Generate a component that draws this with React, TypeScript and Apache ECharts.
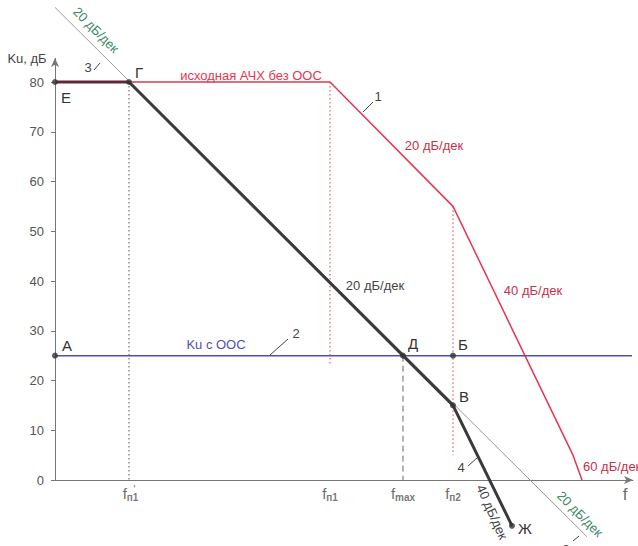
import React, { useEffect, useRef } from 'react';
import * as echarts from 'echarts';

// x is in decades of frequency (lg f), y is Ku in dB
const yTickValues = [0, 10, 20, 30, 40, 50, 60, 70, 80];
const xTickValues = [0.74, 2.75, 3.48, 3.98, 5.7];
const xTickMain = ['f', 'f', 'f', 'f', 'f'];
const xTickSub = ['п1', 'п1', 'max', 'п2', ''];
const xTickSup = ["'", '', '', '', ''];

// 1 — исходная АЧХ без ООС
const redLine = [[0, 80], [2.75, 80], [3.98, 55], [5.18, 5], [5.27, 0]];
// 2 — Ku с ООС
const blueLine = [[0, 25], [5.77, 25]];
// 3 — asymptote 20 дБ/дек
const asymptote = [[0, 95], [5.32, -11.4]];
// Е–Г segment
const flatPart = [[0, 80], [0.74, 80]];
// 4 — resulting response Г–Д–В–Ж
const thickLine = [[0.74, 80], [3.48, 25], [3.98, 15], [4.57, -9.2]];
// guides
const guideG = [[0.74, 80], [0.74, 0]];
const guideFp1 = [[2.75, 80], [2.75, 23]];
const guideFp2 = [[3.98, 55], [3.98, 5]];
const guideFmax = [[3.48, 25], [3.48, 0]];
// named points
const pointNames = ['Е', 'Г', 'А', 'Д', 'Б', 'В', 'Ж'];
const pointX = [0, 0.74, 0, 3.48, 3.98, 3.98, 4.57];
const pointY = [80, 80, 25, 25, 25, 15, -9.2];

const FONT = '"Liberation Sans", Arial, sans-serif';

export default function App() {
  const ref = useRef<HTMLDivElement>(null);
  useEffect(() => {
    if (!ref.current) return;
    const chart = echarts.init(ref.current, null, { renderer: 'svg' });

    const txt = (text: string, x: number, y: number, fill: string, size = 13, rotation = 0, align = 'center') => ({
      type: 'text',
      x,
      y,
      rotation,
      z: 100,
      style: { text, fill, fontSize: size, fontFamily: FONT, align, verticalAlign: 'middle' },
    });
    const lead = (x1: number, y1: number, x2: number, y2: number) => ({
      type: 'line',
      z: 100,
      shape: { x1, y1, x2, y2 },
      style: { stroke: '#444', lineWidth: 1 },
    });

    const lineSeries = (data: number[][], color: string, width: number, type: any = 'solid', z = 2) => ({
      type: 'line',
      data,
      symbol: 'none',
      z,
      lineStyle: { color, width, type },
      silent: true,
    });

    const red = '#e8364f';
    const darkRed = '#c8304a';
    const green = '#3b8a68';
    const blue = '#4f4fb4';

    const xLabel = (i: number) => {
      if (!xTickSub[i]) return '{b|' + xTickMain[i] + '}';
      let s = '{m|' + xTickMain[i] + '}{s|' + xTickSub[i] + '}';
      if (xTickSup[i]) s += '{p|' + xTickSup[i] + '}';
      return s;
    };

    chart.setOption({
      animation: false,
      grid: { left: 55, width: 578, top: 2.4, height: 542.3, outerBoundsMode: 'none', containLabel: false },
      xAxis: {
        type: 'value',
        min: 0,
        max: 5.78,
        splitLine: { show: false },
        axisLine: {
          show: true,
          onZero: true,
          symbol: ['none', 'arrow'],
          symbolSize: [6, 9],
          lineStyle: { color: '#777', width: 1 },
        },
        axisTick: { show: false },
        axisLabel: { show: false },
      },
      yAxis: {
        type: 'value',
        min: -13,
        max: 96,
        splitLine: { show: false },
        axisLine: { show: false },
        axisTick: { show: true, customValues: yTickValues, length: 4, lineStyle: { color: '#777' } },
        axisLabel: {
          customValues: yTickValues,
          margin: 11,
          color: '#555',
          fontSize: 13,
          fontFamily: FONT,
        },
      },
      series: [
        {
          type: 'line',
          data: [],
          silent: true,
          markLine: {
            silent: true,
            symbol: ['none', 'arrow'],
            symbolSize: [6, 9],
            label: { show: false },
            lineStyle: { color: '#777', width: 1, type: 'solid' },
            data: [[{ coord: [0, 0] }, { coord: [0, 84.8] }]],
          },
        },
        lineSeries(guideG, '#555', 1, [1.5, 2.5], 1),
        lineSeries(guideFp1, red, 1, [1.5, 2.5], 1),
        lineSeries(guideFp2, red, 1, [1.5, 2.5], 1),
        lineSeries(guideFmax, '#666', 1, [6, 4], 1),
        lineSeries(asymptote, '#9a9a9a', 1, 'solid', 2),
        lineSeries(redLine, red, 1.5, 'solid', 3),
        lineSeries(blueLine, blue, 1.5, 'solid', 3),
        lineSeries(flatPart, '#5e2a38', 3, 'solid', 4),
        lineSeries(thickLine, '#3a3a3a', 3, 'solid', 4),
        {
          type: 'scatter',
          data: pointX.map((x, i) => ({ name: pointNames[i], value: [x, pointY[i]] })),
          symbolSize: 6,
          itemStyle: { color: '#333' },
          z: 5,
          silent: true,
        },
        {
          type: 'scatter',
          silent: true,
          symbolSize: 0,
          z: 6,
          data: xTickValues.map((x) => [x, 0]),
          label: {
            show: true,
            position: 'bottom',
            distance: 4,
            formatter: (p: any) => xLabel(p.dataIndex),
            rich: {
              m: { fontSize: 15, lineHeight: 18, fontFamily: FONT, color: '#444' },
              s: { fontSize: 10, lineHeight: 13, fontWeight: 'bold', verticalAlign: 'bottom', fontFamily: FONT, color: '#555' },
              p: { fontSize: 10, lineHeight: 18, verticalAlign: 'top', fontFamily: FONT, color: '#444', padding: [0, 0, 0, -5] },
              b: { fontSize: 17, lineHeight: 20, fontFamily: FONT, color: '#444' },
            },
          },
        },
      ],
      graphic: [
        txt('Ku, дБ', 27, 58, '#444', 13),
        txt('3', 88, 67, '#444', 13),
        lead(94, 70, 100, 63),
        txt('Г', 139, 72, '#333', 15),
        txt('Е', 66, 97, '#333', 15),
        txt('20 дБ/дек', 96, 30, green, 13, -Math.PI / 4),
        txt('исходная АЧХ без ООС', 251, 75, red, 13),
        txt('1', 378, 96, '#444', 13),
        lead(363, 112, 373, 102),
        txt('20 дБ/дек', 434, 145, darkRed, 13),
        txt('20 дБ/дек', 375, 285, '#444', 13),
        txt('40 дБ/дек', 533, 290, darkRed, 13),
        txt('Ku с ООС', 216, 344, blue, 13),
        txt('2', 296, 333, '#444', 13),
        lead(270, 355, 288, 339),
        txt('А', 67, 345, '#333', 15),
        txt('Д', 413, 343, '#333', 15),
        txt('Б', 463, 344, '#333', 15),
        txt('В', 464, 396, '#333', 15),
        txt('4', 461, 467, '#444', 13),
        lead(468, 466, 477, 458),
        txt('60 дБ/дек', 583, 466, darkRed, 13, 0, 'left'),
        txt('40 дБ/дек', 492, 512, '#444', 13, -1.15),
        txt('Ж', 525, 528, '#333', 15),
        txt('20 дБ/дек', 580, 514, green, 13, -Math.PI / 4),
        txt('3', 566, 549, '#444', 13),
        lead(573, 541, 579, 536),
      ],
    });
    return () => chart.dispose();
  }, []);
  return <div ref={ref} style={{ position: 'fixed', left: 0, top: 0, width: 638, height: 546, background: '#fff' }} />;
}
